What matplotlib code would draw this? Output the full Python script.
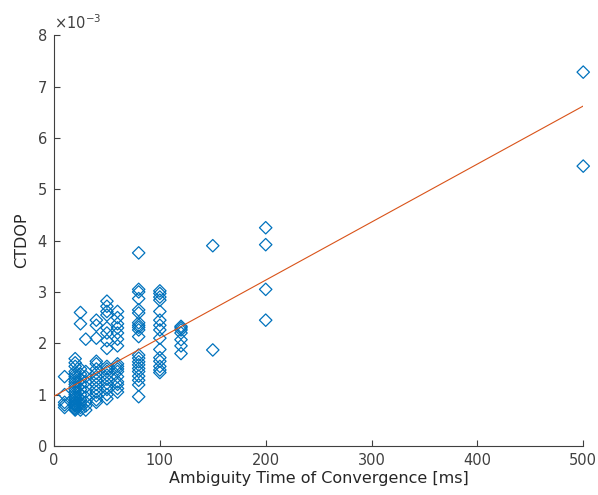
import numpy as np
import matplotlib
matplotlib.use("Agg")
import matplotlib.pyplot as plt

# CTDOP values (in units of 1e-3) grouped by ambiguity convergence time [ms]
t_levels = [10, 20, 25, 30, 40, 50, 60, 80, 100, 120, 150, 200, 500]
ctdop_t10 = [1.35, 1.0, 0.85, 0.8, 0.75]
ctdop_t20 = [1.7, 1.62, 1.55, 1.45, 1.4, 1.35, 1.3, 1.25, 1.2, 1.15, 1.1, 1.05,
             1.0, 0.95, 0.92, 0.88, 0.85, 0.82, 0.8, 0.78, 0.75, 0.72, 0.7]
ctdop_t25 = [2.6, 2.38, 1.5, 1.4, 1.3, 1.2, 1.1, 1.0, 0.9, 0.85, 0.8, 0.75, 0.7]
ctdop_t30 = [2.08, 1.45, 1.35, 1.25, 1.15, 1.05, 0.95, 0.85, 0.78, 0.7]
ctdop_t40 = [2.45, 2.35, 2.1, 1.65, 1.6, 1.5, 1.42, 1.35, 1.28, 1.2, 1.12, 1.05,
             0.98, 0.9, 0.85]
ctdop_t50 = [2.82, 2.72, 2.62, 2.55, 2.3, 2.2, 2.05, 1.9, 1.55, 1.5, 1.45, 1.38,
             1.3, 1.22, 1.15, 1.1, 1.0, 0.92]
ctdop_t60 = [2.62, 2.5, 2.38, 2.3, 2.2, 2.08, 1.95, 1.6, 1.55, 1.5, 1.45, 1.35,
             1.25, 1.2, 1.12, 1.05]
ctdop_t80 = [3.76, 3.05, 3.0, 2.87, 2.65, 2.59, 2.4, 2.35, 2.31, 2.26, 2.13, 1.77,
             1.71, 1.64, 1.58, 1.51, 1.45, 1.36, 1.28, 1.19, 0.96]
ctdop_t100 = [3.02, 2.97, 2.9, 2.84, 2.62, 2.45, 2.35, 2.26, 2.1, 1.88, 1.72,
              1.65, 1.55, 1.48, 1.43]
ctdop_t120 = [2.33, 2.3, 2.26, 2.2, 2.07, 1.95, 1.8]
ctdop_t150 = [3.9, 1.87]
ctdop_t200 = [4.25, 3.92, 3.05, 2.45]
ctdop_t500 = [7.28, 5.45]

groups = [ctdop_t10, ctdop_t20, ctdop_t25, ctdop_t30, ctdop_t40, ctdop_t50,
          ctdop_t60, ctdop_t80, ctdop_t100, ctdop_t120, ctdop_t150,
          ctdop_t200, ctdop_t500]

# Linear fit line (endpoints, CTDOP in units of 1e-3)
fit_t = [0, 500]
fit_ctdop = [0.97, 6.62]

x_ticks = [0, 100, 200, 300, 400, 500]
y_ticks = [0, 1, 2, 3, 4, 5, 6, 7, 8]

t_all = np.concatenate([[t] * len(g) for t, g in zip(t_levels, groups)])
c_all = np.concatenate(groups) * 1e-3

fig = plt.figure(figsize=(5.98, 4.95), dpi=100)
ax = fig.add_axes([0.0903, 0.099, 0.885, 0.830])

ax.scatter(t_all, c_all, marker='D', s=40, facecolors='none',
           edgecolors='#0072BD', linewidths=0.9, zorder=2, clip_on=False)
ax.plot(fit_t, np.array(fit_ctdop) * 1e-3, color='#D95319', linewidth=0.8,
        zorder=3)

ax.set_xlim(0, 500)
ax.set_ylim(0, 8e-3)
ax.set_xticks(x_ticks)
ax.set_yticks(np.array(y_ticks) * 1e-3)
ax.set_yticklabels([str(v) for v in y_ticks])
ax.set_xticklabels([str(v) for v in x_ticks])

for s in ['top', 'right']:
    ax.spines[s].set_visible(False)
for s in ['left', 'bottom']:
    ax.spines[s].set_color('#404040')
    ax.spines[s].set_linewidth(0.8)

ax.tick_params(direction='in', length=4, width=0.8, colors='#404040',
               labelsize=10.5, pad=5)
ax.set_xlabel('Ambiguity Time of Convergence [ms]', fontsize=11.5,
              color='#262626', labelpad=2)
ax.set_ylabel('CTDOP', fontsize=11.5, color='#262626', labelpad=6)

ax.text(0.0, 1.008, r'$\times10^{-3}$', transform=ax.transAxes,
        fontsize=10.5, color='#404040', ha='left', va='bottom')

fig.savefig('out.png', dpi=100)
